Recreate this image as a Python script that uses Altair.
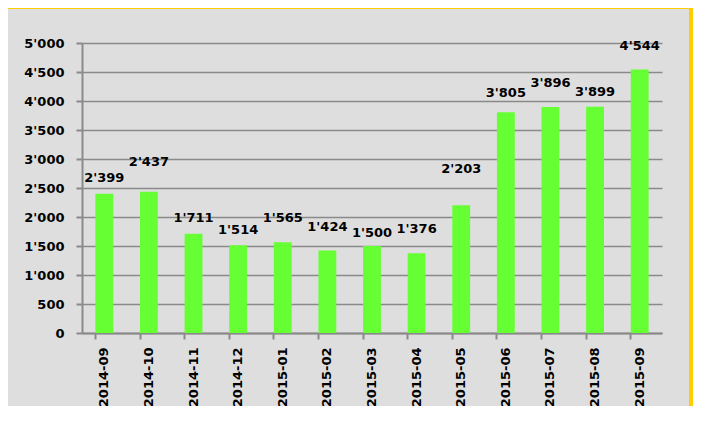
import altair as alt
import pandas as pd

months = ["2014-09", "2014-10", "2014-11", "2014-12", "2015-01", "2015-02", "2015-03",
          "2015-04", "2015-05", "2015-06", "2015-07", "2015-08", "2015-09"]
values = [2399, 2437, 1711, 1514, 1565, 1424, 1500, 1376, 2203, 3805, 3896, 3899, 4544]
# where each data label sits (in value units)
label_at = [2672, 2948, 1983, 1776, 1983, 1828, 1724, 1793, 2828, 4138, 4310, 4155, 4948]
y_ticks = [0, 500, 1000, 1500, 2000, 2500, 3000, 3500, 4000, 4500, 5000]

df = pd.DataFrame({"month": months, "value": values, "label_at": label_at})

W, H = 580, 290
FONT = "DejaVu Sans"
GREY = "#8a8a8a"

x_axis = alt.Axis(title=None, labelAngle=-90, labelAlign="right", labelBaseline="middle",
                  labelPadding=8, bandPosition=0, tickSize=6, tickWidth=2,
                  tickColor=GREY, domainColor=GREY, domainWidth=2,
                  labelFont=FONT, labelFontWeight="bold", labelFontSize=13,
                  labelColor="black", grid=False)
y_axis = alt.Axis(title=None, values=y_ticks, format=",d",
                  tickSize=6, tickWidth=2, tickColor=GREY,
                  domainColor=GREY, domainWidth=2,
                  gridColor=GREY, gridWidth=1.5,
                  labelPadding=12, labelFont=FONT, labelFontWeight="bold",
                  labelFontSize=13, labelColor="black")
x_scale = alt.Scale(paddingInner=0.6, paddingOuter=0.3)
y_scale = alt.Scale(domain=[0, 5000], nice=False)

bars = alt.Chart(df).mark_bar(color="#66FF33").encode(
    x=alt.X("month:N", sort=months, scale=x_scale, axis=x_axis),
    y=alt.Y("value:Q", scale=y_scale, axis=y_axis),
)

labels = alt.Chart(df).mark_text(font=FONT, fontWeight="bold", fontSize=13,
                                 color="black", baseline="middle").encode(
    x=alt.X("month:N", sort=months, scale=x_scale, axis=x_axis),
    y=alt.Y("label_at:Q", scale=y_scale, axis=y_axis),
    text=alt.Text("value:Q", format=",d"),
)

frame_top = alt.Chart(df).mark_rect(color="#FFCC00").encode(
    x=alt.value(-74), x2=alt.value(611), y=alt.value(-35), y2=alt.value(-34))
frame_right = alt.Chart(df).mark_rect(color="#FFCC00").encode(
    x=alt.value(607), x2=alt.value(611), y=alt.value(-35), y2=alt.value(363))

chart = alt.layer(bars, labels, frame_top, frame_right).properties(
    width=W, height=H,
    padding={"left": 74, "top": 35, "right": 31, "bottom": 73},
    autosize=alt.AutoSizeParams(type="none"),
    background="#DEDEDE",
).configure_view(stroke=GREY, strokeWidth=1.5).configure(
    locale={"number": {"decimal": ".", "thousands": "'", "grouping": [3], "currency": ["", ""]}}
)

chart.save("out.html", embed_options={"renderer": "svg", "actions": False})
